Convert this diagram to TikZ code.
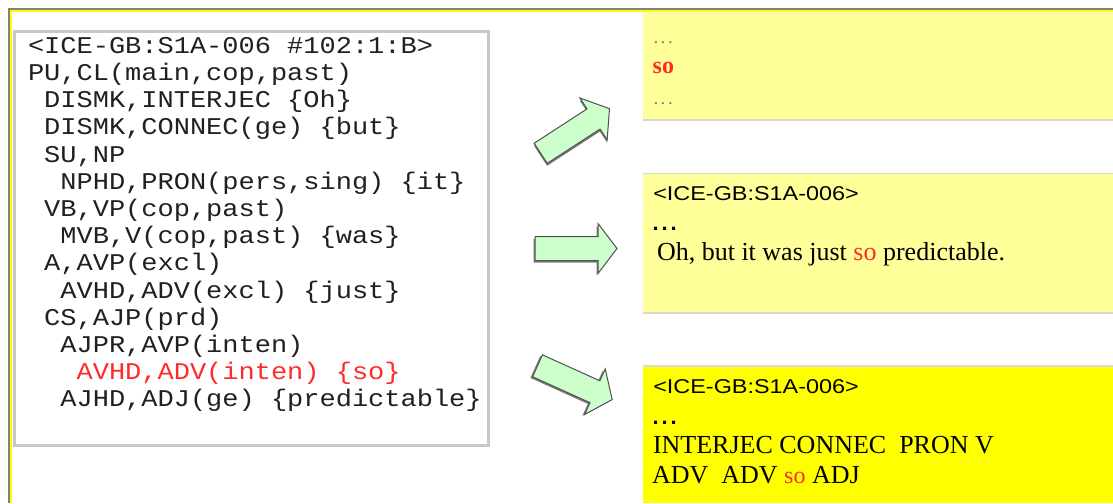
\documentclass[tikz,border=0pt]{standalone}
\usepackage{fontspec}
\newfontfamily\monof[FakeStretch=1.125]{Liberation Mono}
\newfontfamily\serf{Liberation Serif}
\newfontfamily\gothf[FakeStretch=1.17]{Liberation Sans}
\newfontfamily\sansf{Liberation Sans}
\definecolor{codegray}{HTML}{202020}
\definecolor{codered}{HTML}{FF2A2A}
\definecolor{paleyel}{HTML}{FFFF99}
\definecolor{fullyel}{HTML}{FFFF00}
\definecolor{edgebeige}{HTML}{D9D6C3}
\definecolor{edgelight}{HTML}{DADADA}
\definecolor{boxgray}{HTML}{C8C8C8}
\definecolor{framegray}{HTML}{808080}
\definecolor{arrowgreen}{HTML}{CCFFCC}
\definecolor{arrowedge}{HTML}{505050}
\definecolor{arrowshadow}{HTML}{7A7A7A}
\tikzset{
  code/.style={anchor=base west, inner sep=0pt, outer sep=0pt, text=codegray,
    font=\monof\fontsize{24}{27}\selectfont},
  codehl/.style={code, text=codered},
  gothtext/.style={anchor=base west, inner sep=0pt, outer sep=0pt, text=black,
    font=\gothf\fontsize{20}{24}\selectfont},
  sertext/.style={anchor=base west, inner sep=0pt, outer sep=0pt, text=black,
    font=\serf\fontsize{26}{30}\selectfont},
  graydots/.style={anchor=base west, inner sep=0pt, outer sep=0pt, text=framegray,
    font=\serf\fontsize{19}{22}\selectfont},
  blackdots/.style={anchor=base west, inner sep=0pt, outer sep=0pt, text=black,
    font=\sansf\bfseries\fontsize{22}{26}\selectfont},
  panel/.style={anchor=north west, inner sep=0pt, outer sep=0pt, draw=none},
  blockarrow/.pic={
    \fill[arrowshadow, shift={(-1.5,2)}] (0,-12) -- (63,-12) -- (63,-25) -- (82,0)
      -- (63,25) -- (63,12) -- (0,12) -- cycle;
    \filldraw[fill=arrowgreen, draw=arrowedge, line width=1pt, line join=miter]
      (0,-12) -- (63,-12) -- (63,-25) -- (82,0) -- (63,25) -- (63,12) -- (0,12) -- cycle;
  }
}
\newcommand\wdots[1]{.\hspace{#1}.\hspace{#1}.}
\begin{document}
\begin{tikzpicture}[x=1pt,y=-1pt]
\useasboundingbox (0,0) rectangle (1113,503);
\fill[white] (0,0) rectangle (1113,503);
% outer frame
\coordinate (fgA) at (8.8,503);
\coordinate (fgB) at (8.8,8.8);
\coordinate (fgC) at (1113,8.8);
\coordinate (fyA) at (11,503);
\coordinate (fyB) at (11,11);
\coordinate (fyC) at (1113,11);
\draw[framegray, line width=2pt] (fgA) -- (fgB) -- (fgC);
\draw[fullyel, line width=2pt] (fyA) -- (fyB) -- (fyC);

% left code box
\node[panel, draw=boxgray, line width=3pt, fill=white, minimum width=473.5, minimum height=413.5]
  (codebox) at (14.5,32) {};

\node[code]   (l1)  at (28,53.3)    {<ICE-GB:S1A-006 \#102:1:B>};
\node[code]   (l2)  at (28,80.5)    {PU,CL(main,cop,past)};
\node[code]   (l3)  at (44.2,107.7) {DISMK,INTERJEC \{Oh\}};
\node[code]   (l4)  at (44.2,134.9) {DISMK,CONNEC(ge) \{but\}};
\node[code]   (l5)  at (44.2,162.1) {SU,NP};
\node[code]   (l6)  at (60.4,189.3) {NPHD,PRON(pers,sing) \{it\}};
\node[code]   (l7)  at (44.2,216.5) {VB,VP(cop,past)};
\node[code]   (l8)  at (60.4,243.7) {MVB,V(cop,past) \{was\}};
\node[code]   (l9)  at (44.2,270.9) {A,AVP(excl)};
\node[code]   (l10) at (60.4,298.1) {AVHD,ADV(excl) \{just\}};
\node[code]   (l11) at (44.2,325.3) {CS,AJP(prd)};
\node[code]   (l12) at (60.4,352.5) {AJPR,AVP(inten)};
\node[codehl] (l13) at (76.6,379.7) {AVHD,ADV(inten) \{so\}};
\node[code]   (l14) at (60.4,406.9) {AJHD,ADJ(ge) \{predictable\}};

% right panels
\node[panel, fill=paleyel, minimum width=470, minimum height=107] (boxA) at (643,13) {};
\draw[edgebeige, line width=2pt] (boxA.south west) -- (boxA.south east);
\node[panel, fill=paleyel, minimum width=470, minimum height=140] (boxB) at (643,173.3) {};
\draw[edgelight, line width=1pt] (boxB.north west) -- (boxB.north east);
\draw[edgebeige, line width=2pt] (boxB.south west) -- (boxB.south east);
\node[panel, fill=fullyel, minimum width=470, minimum height=137] (boxC) at (643,366) {};
\draw[edgelight, line width=1.5pt] (boxC.north west) -- (boxC.north east);

% panel A text
\node[graydots] (a1) at (653.5,43.5) {\wdots{2.5pt}};
\node[sertext, text=codered, font=\serf\bfseries\fontsize{24}{28}\selectfont] (a2) at (652.7,73.3) {so};
\node[graydots] (a3) at (653.5,104.5) {\wdots{2.5pt}};

% panel B text
\node[gothtext] (b1) at (653.3,200) {<ICE-GB:S1A-006>};
\node[blackdots] (b2) at (652.5,230.7) {\wdots{3pt}};
\node[sertext] (b3) at (657,260) {Oh, but it was just {\color{codered}so} predictable.};

% panel C text
\node[gothtext] (c1) at (653.3,393.3) {<ICE-GB:S1A-006>};
\node[blackdots] (c2) at (652.5,424) {\wdots{3pt}};
\node[sertext] (c3) at (653,453.3) {INTERJEC CONNEC\hspace{0.5em}PRON V};
\node[sertext] (c4) at (652,483.3) {ADV\hspace{0.5em}ADV {\color{codered}\fontsize{24}{28}\selectfont so} ADJ};

% block arrows
\pic[rotate=33] at (540.7,153.3) {blockarrow};
\pic at (535,248.5) {blockarrow};
\pic[rotate=-24.3] at (537.5,365.8) {blockarrow};
\end{tikzpicture}
\end{document}
